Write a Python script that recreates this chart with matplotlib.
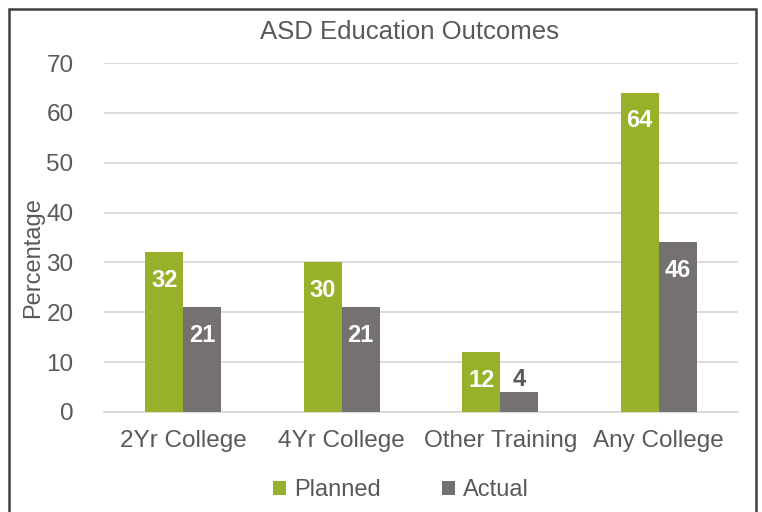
import numpy as np
import matplotlib
matplotlib.use("Agg")
import matplotlib.pyplot as plt
from matplotlib.patches import Rectangle

plt.rcParams['font.family'] = ['Liberation Sans', 'DejaVu Sans']

categories = ["2Yr College", "4Yr College", "Other Training", "Any College"]
planned = [32, 30, 12, 64]
actual = [21, 21, 4, 34]
planned_labels = ["32", "30", "12", "64"]
actual_labels = ["21", "21", "4", "46"]

green = "#97B12B"
grey = "#767171"
txt = "#595959"

fig = plt.figure(figsize=(7.62, 5.12), dpi=100)
ax = fig.add_axes([104 / 762, 1 - 412 / 512, 634 / 762, 349 / 512])

x = np.arange(len(categories))
w = 0.24
b1 = ax.bar(x - w / 2, planned, w, color=green, zorder=3)
b2 = ax.bar(x + w / 2, actual, w, color=grey, zorder=3)

for bars, labs in ((b1, planned_labels), (b2, actual_labels)):
    for rect, lab in zip(bars, labs):
        h = rect.get_height()
        cx = rect.get_x() + rect.get_width() / 2
        if h > 8:
            ax.annotate(lab, (cx, h), xytext=(0, -28), textcoords="offset pixels",
                        ha="center", va="center", color="white",
                        fontsize=17, fontweight="bold", zorder=4)
        else:
            ax.annotate(lab, (cx, h), xytext=(0, 13), textcoords="offset pixels",
                        ha="center", va="center", color=txt,
                        fontsize=17, fontweight="bold", zorder=4)

ax.set_xlim(-0.5, len(categories) - 0.5)
ax.set_ylim(0, 70)
ax.set_yticks(range(0, 71, 10))
ax.set_xticks(x)
ax.set_xticklabels(categories)
ax.tick_params(axis="both", length=0, labelsize=17.5, labelcolor=txt)
ax.tick_params(axis="y", pad=22)
ax.tick_params(axis="x", pad=13)
ax.grid(axis="y", color="#D9D9D9", linewidth=1.3, zorder=0)
for s in ["top", "right", "left"]:
    ax.spines[s].set_visible(False)
ax.spines["bottom"].set_color("#D9D9D9")
ax.spines["bottom"].set_linewidth(1.3)
ax.set_ylabel("Percentage", fontsize=17, color=txt, va="center")
ax.yaxis.set_label_coords(-71 / 634, (412 - 258) / 349)

fig.text(410 / 762, 1 - 32 / 512, "ASD Education Outcomes", ha="center", va="center",
         fontsize=18.5, color=txt)

leg = fig.legend([b1, b2], ["Planned", "Actual"], loc="center",
                 bbox_to_anchor=(401 / 762, 1 - 490 / 512), ncol=2, frameon=False,
                 fontsize=17, handlelength=0.55, handleheight=0.55, handletextpad=0.35,
                 columnspacing=2.55)
for t in leg.get_texts():
    t.set_color(txt)

fig.patches.append(Rectangle((9 / 762, -0.05), 747 / 762, 1.05 - 9 / 512,
                             transform=fig.transFigure, fill=False,
                             edgecolor="#404040", linewidth=1.8))

fig.savefig("out.png", dpi=100)
